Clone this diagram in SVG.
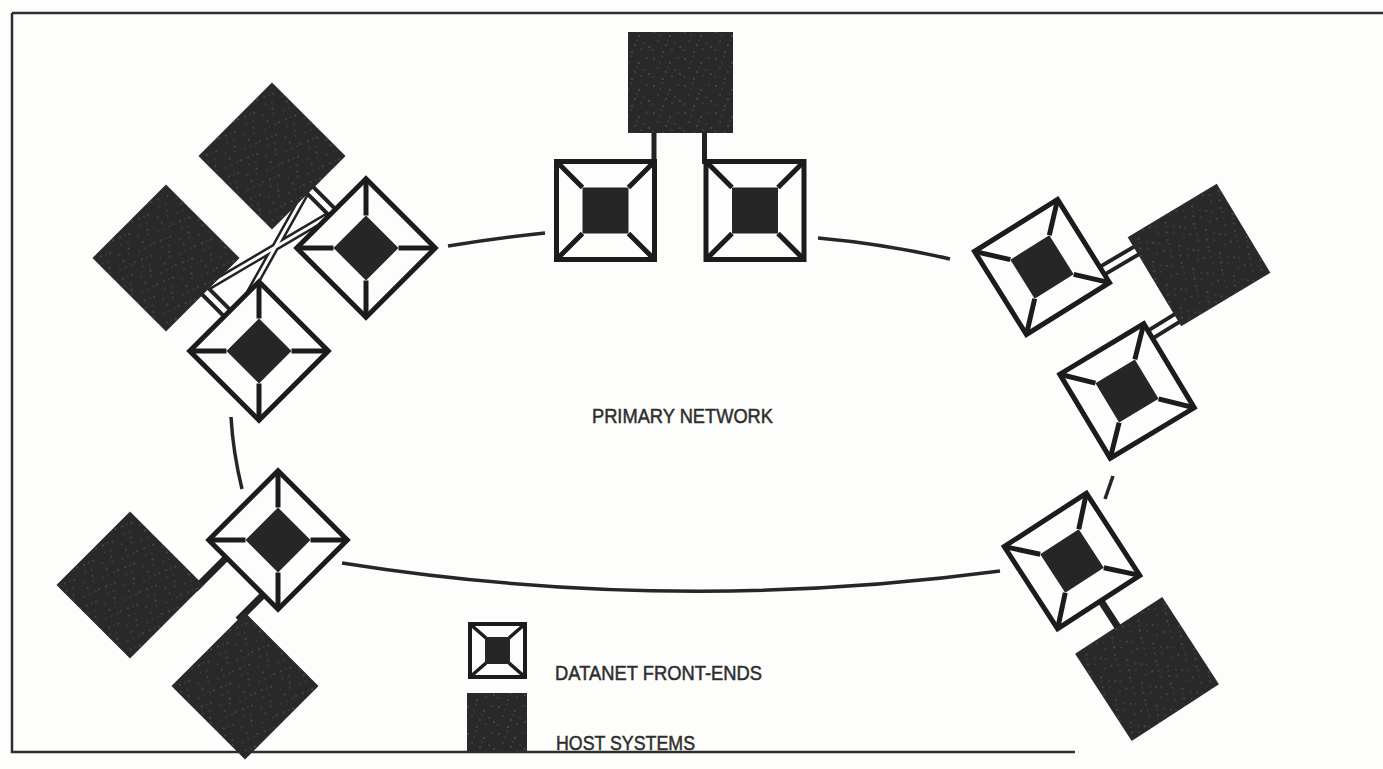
<svg xmlns="http://www.w3.org/2000/svg" xmlns:xlink="http://www.w3.org/1999/xlink" width="1383" height="769" viewBox="0 0 1383 769">
  <style>
    .frame { fill: none; stroke: #2e2e2e; stroke-width: 2.5; }
    .ring { fill: none; stroke: #262626; stroke-width: 3.5; stroke-linecap: butt; }
    .fe-frame { fill: #fdfdfb; stroke: #1c1c1c; stroke-width: 5; }
    .fe-spoke { fill: none; stroke: #1c1c1c; stroke-width: 5; }
    .fe-core { fill: #262626; }
    .host { fill: #292929; }
    .grain { fill: url(#grain); }
    .bar { stroke: #222; stroke-width: 6; fill: none; }
    .strip-out { stroke: #222; stroke-width: 13; fill: none; }
    .strip-in { stroke: #fdfdfb; stroke-width: 5; fill: none; }
    .thin-out { stroke: #222; stroke-width: 8; fill: none; }
    .thin-in { stroke: #fdfdfb; stroke-width: 3; fill: none; }
    .label { font-family: "Liberation Sans", Arial, sans-serif; font-size: 21px; fill: #2e2e2e; stroke: #2e2e2e; stroke-width: 0.5; }
  </style>
  <defs>
    <!-- fine speckle laid over the solid host squares -->
    <pattern id="grain" width="31" height="27" patternUnits="userSpaceOnUse">
      <g fill="#a8a8a8" fill-opacity="0.55">
        <circle cx="3" cy="5" r="0.7"/>
        <circle cx="11" cy="2" r="0.6"/>
        <circle cx="19" cy="9" r="0.7"/>
        <circle cx="27" cy="4" r="0.6"/>
        <circle cx="7" cy="14" r="0.6"/>
        <circle cx="15" cy="18" r="0.7"/>
        <circle cx="24" cy="16" r="0.6"/>
        <circle cx="2" cy="23" r="0.6"/>
        <circle cx="12" cy="25" r="0.7"/>
        <circle cx="21" cy="22" r="0.6"/>
        <circle cx="29" cy="20" r="0.7"/>
        <circle cx="9" cy="8" r="0.5"/>
        <circle cx="17" cy="13" r="0.5"/>
      </g>
    </pattern>
    <!-- front-end symbol: framed square with a dark core and four corner spokes -->
    <g id="fe">
      <rect class="fe-frame" x="-49" y="-49" width="98" height="98"/>
      <path class="fe-spoke" d="M-49,-49L-23,-23M49,-49L23,-23M49,49L23,23M-49,49L-23,23"/>
      <rect class="fe-core" x="-23" y="-23" width="46" height="46"/>
    </g>
    <!-- host system symbol: solid dark square -->
    <g id="host">
      <rect class="host" x="-52" y="-52" width="104" height="104"/>
      <rect class="grain" x="-52" y="-52" width="104" height="104"/>
    </g>
  </defs>

  <rect width="1383" height="769" fill="#fdfdfb"/>

  <!-- page frame -->
  <g id="frame">
    <path class="frame" d="M12,13H1383M12,13V752H1075"/>
  </g>

  <!-- connectors: primary network ring and host links -->
  <g id="connectors">
    <path class="ring" d="M448,246Q497,238 545,233"/>
    <path class="ring" d="M818,238Q885,244 950,259"/>
    <path class="ring" d="M231,417Q233,452 242,489"/>
    <path class="ring" d="M342,563Q670,615 1000,571"/>
    <path class="ring" d="M1113,476L1105,499"/>

    <!-- top cluster -->
    <path class="bar" style="stroke-width:5" d="M654,128V164M704.5,128V164"/>

    <!-- left cluster links -->
    <path class="strip-out" d="M306,186L336,216M200,286L232,318"/>
    <path class="thin-out" d="M306,192L239,312M205,288.5L329,215.5"/>
    <path class="strip-in" d="M306,186L336,216M200,286L232,318"/>
    <path class="thin-in" d="M306,192L239,312M205,288.5L329,215.5"/>

    <!-- right cluster links -->
    <path class="strip-out" d="M1100,272L1139,249M1148,336L1182,315"/>
    <path class="strip-in" d="M1100,272L1139,249M1148,336L1182,315"/>

    <!-- lower left cluster links -->
    <path class="bar" style="stroke-width:7" d="M228,556L195,589M266,592L238,620"/>

    <!-- lower right cluster link -->
    <path class="bar" style="stroke-width:7" d="M1099,598L1123,635"/>
  </g>

  <!-- top cluster -->
  <g id="host-top">
    <rect class="host" x="628" y="32" width="105" height="101"/>
    <rect class="grain" x="628" y="32" width="105" height="101"/>
  </g>
  <g id="fe-top-left"><use xlink:href="#fe" transform="translate(605.5,210.5)"/></g>
  <g id="fe-top-right"><use xlink:href="#fe" transform="translate(755,210.5)"/></g>

  <!-- upper left cluster -->
  <g id="host-nw-upper"><use xlink:href="#host" transform="translate(272,156) rotate(45)"/></g>
  <g id="host-nw-left"><use xlink:href="#host" transform="translate(166,258) rotate(45)"/></g>
  <g id="fe-nw-right"><use xlink:href="#fe" transform="translate(366,248) rotate(45)"/></g>
  <g id="fe-nw-lower"><use xlink:href="#fe" transform="translate(259,351) rotate(45)"/></g>

  <!-- upper right cluster -->
  <g id="fe-ne-upper"><use xlink:href="#fe" transform="translate(1042,267) rotate(-32)"/></g>
  <g id="host-ne"><use xlink:href="#host" transform="translate(1199,255) rotate(-31)"/></g>
  <g id="fe-ne-lower"><use xlink:href="#fe" transform="translate(1127,391) rotate(-31)"/></g>

  <!-- lower left cluster -->
  <g id="fe-sw"><use xlink:href="#fe" transform="translate(278,540) rotate(45)"/></g>
  <g id="host-sw-left"><use xlink:href="#host" transform="translate(130,585) rotate(45)"/></g>
  <g id="host-sw-lower"><use xlink:href="#host" transform="translate(245,686) rotate(45)"/></g>

  <!-- lower right cluster -->
  <g id="fe-se"><use xlink:href="#fe" transform="translate(1072,561) rotate(-33)"/></g>
  <g id="host-se"><use xlink:href="#host" transform="translate(1147,669) rotate(-33)"/></g>

  <!-- network title -->
  <g id="title">
    <text class="label" x="592" y="423" textLength="181" lengthAdjust="spacingAndGlyphs">PRIMARY NETWORK</text>
  </g>

  <!-- legend -->
  <g id="legend-fe">
    <rect class="fe-frame" style="stroke-width:4" x="470" y="624" width="55" height="53"/>
    <path class="fe-spoke" style="stroke-width:3.5" d="M470,624L486,638M525,624L509,638M525,677L509,663M470,677L486,663"/>
    <rect class="fe-core" x="485" y="637" width="25" height="27"/>
    <text class="label" x="555" y="680" textLength="207" lengthAdjust="spacingAndGlyphs">DATANET FRONT-ENDS</text>
  </g>
  <g id="legend-host">
    <rect class="host" x="467" y="693" width="60" height="58"/>
    <rect class="grain" x="467" y="693" width="60" height="58"/>
    <text class="label" x="556" y="750" textLength="139" lengthAdjust="spacingAndGlyphs">HOST SYSTEMS</text>
  </g>
</svg>
